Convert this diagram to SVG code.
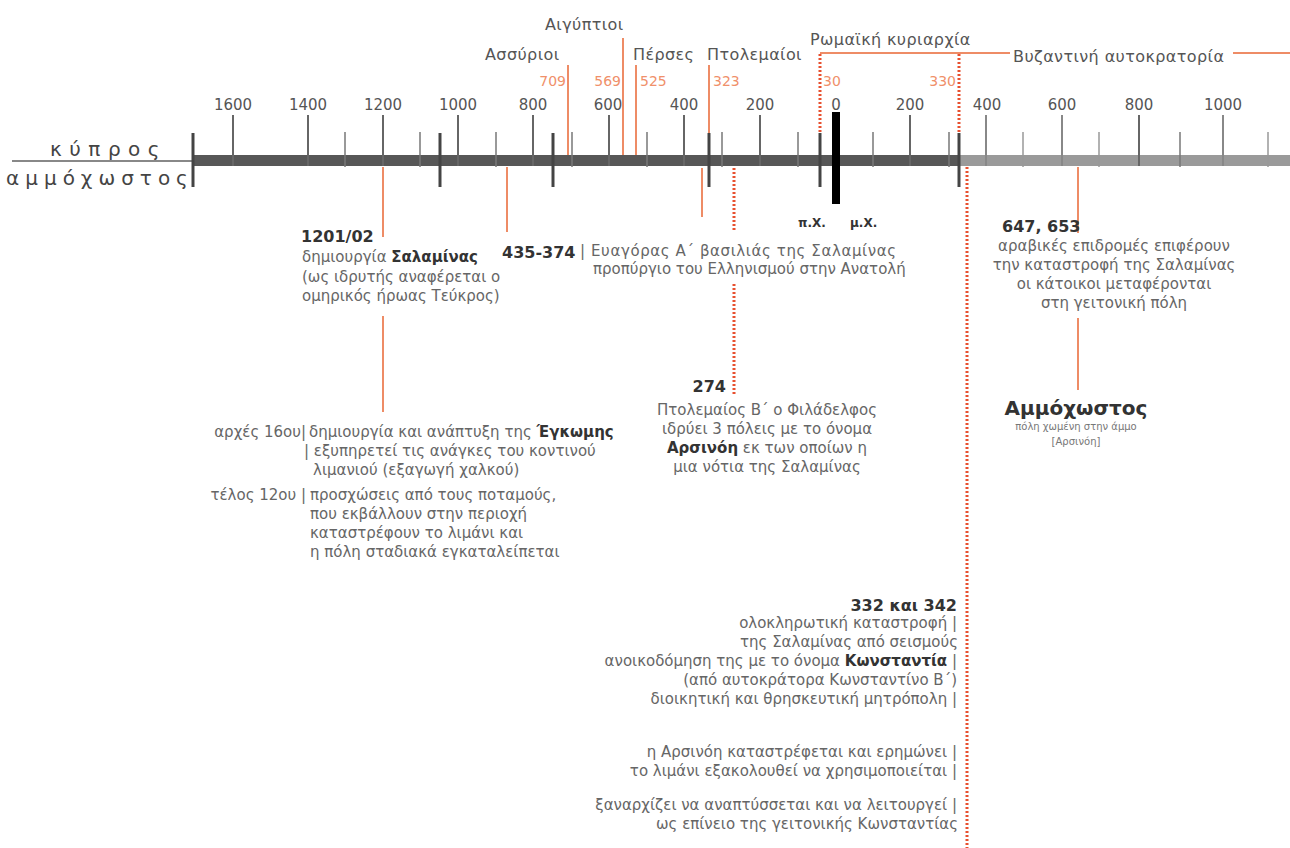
<svg xmlns="http://www.w3.org/2000/svg" width="1290" height="848" viewBox="0 0 1290 848">
<style>
text{font-family:"DejaVu Sans","Noto Sans",sans-serif}
.yr{font-size:15px;fill:#555;text-anchor:middle}
.rn{font-size:14px;fill:#f0906a}
.era{font-size:16px;fill:#555;letter-spacing:0.4px}
.t{font-size:15px;fill:#666}
.b{font-weight:bold;fill:#333}
.h{font-size:16px;font-weight:bold;fill:#333}
.c{text-anchor:middle}
.e{text-anchor:end}
.tall{stroke:#666;stroke-width:2}
.tallr{stroke:#888;stroke-width:2}
.short{stroke:#777;stroke-width:1.5}
.shortr{stroke:#999;stroke-width:1.5}
.dark{stroke:#444;stroke-width:3}
.or{stroke:#ee8c66;stroke-width:2;fill:none}
.dot{stroke:#e8502f;stroke-width:3;stroke-dasharray:2 2;fill:none}
</style>

<g id="axis">
  <line x1="12" y1="161" x2="193" y2="161" stroke="#888" stroke-width="2"/>
  <rect x="193" y="155" width="767" height="11" fill="#575757"/>
  <rect x="960" y="155" width="330" height="11" fill="#9a9a9a"/>
  <text x="50" y="156" font-size="20" letter-spacing="7.5" fill="#444">κύπρος</text>
  <text x="6" y="185" font-size="20" letter-spacing="6" fill="#444">αμμόχωστος</text>
  <g id="tall-ticks">
    <line class="tall" x1="233" y1="115" x2="233" y2="166"/>
    <line class="tall" x1="308" y1="115" x2="308" y2="166"/>
    <line class="tall" x1="383" y1="115" x2="383" y2="166"/>
    <line class="tall" x1="458" y1="115" x2="458" y2="166"/>
    <line class="tall" x1="533" y1="115" x2="533" y2="166"/>
    <line class="tall" x1="609" y1="115" x2="609" y2="166"/>
    <line class="tall" x1="684" y1="115" x2="684" y2="166"/>
    <line class="tall" x1="760" y1="115" x2="760" y2="166"/>
    <line class="tall" x1="910" y1="115" x2="910" y2="166"/>
    <line class="tallr" x1="986" y1="115" x2="986" y2="166"/>
    <line class="tallr" x1="1062" y1="115" x2="1062" y2="166"/>
    <line class="tall" x1="1139" y1="115" x2="1139" y2="166"/>
    <line class="tallr" x1="1223" y1="115" x2="1223" y2="166"/>
  </g>
  <g id="short-ticks">
    <line class="short" x1="345" y1="132" x2="345" y2="167"/>
    <line class="short" x1="420" y1="132" x2="420" y2="167"/>
    <line class="short" x1="496" y1="132" x2="496" y2="167"/>
    <line class="short" x1="572" y1="132" x2="572" y2="167"/>
    <line class="short" x1="647" y1="132" x2="647" y2="167"/>
    <line class="short" x1="722" y1="132" x2="722" y2="167"/>
    <line class="short" x1="798" y1="132" x2="798" y2="167"/>
    <line class="short" x1="873" y1="132" x2="873" y2="167"/>
    <line class="short" x1="949" y1="132" x2="949" y2="167"/>
    <line class="shortr" x1="1023" y1="132" x2="1023" y2="167"/>
    <line class="shortr" x1="1099" y1="132" x2="1099" y2="167"/>
    <line class="short" x1="1180" y1="132" x2="1180" y2="167"/>
    <line class="shortr" x1="1268" y1="132" x2="1268" y2="167"/>
  </g>
  <g id="dark-ticks">
    <line class="dark" x1="193" y1="133" x2="193" y2="187"/>
    <line class="dark" x1="440" y1="133" x2="440" y2="187"/>
    <line class="dark" x1="553" y1="133" x2="553" y2="187"/>
    <line class="dark" x1="709" y1="133" x2="709" y2="187"/>
    <line class="dark" x1="820" y1="133" x2="820" y2="187"/>
    <line class="dark" x1="959" y1="133" x2="959" y2="187"/>
  </g>
  <rect x="832" y="112" width="8" height="92" fill="#000"/>
  <g id="year-labels">
    <text class="yr" x="233" y="110">1600</text>
    <text class="yr" x="308" y="110">1400</text>
    <text class="yr" x="383" y="110">1200</text>
    <text class="yr" x="458" y="110">1000</text>
    <text class="yr" x="533" y="110">800</text>
    <text class="yr" x="608" y="110">600</text>
    <text class="yr" x="684" y="110">400</text>
    <text class="yr" x="760" y="110">200</text>
    <text class="yr" x="836" y="110">0</text>
    <text class="yr" x="910" y="110">200</text>
    <text class="yr" x="987" y="110">400</text>
    <text class="yr" x="1062" y="110">600</text>
    <text class="yr" x="1139" y="110">800</text>
    <text class="yr" x="1223" y="110">1000</text>
  </g>
  <text x="798" y="227" font-size="12" font-weight="bold" fill="#333">π.Χ.</text>
  <text x="850" y="227" font-size="12" font-weight="bold" fill="#333">μ.Χ.</text>
</g>

<g id="eras">
  <line class="or" x1="568" y1="65" x2="568" y2="155"/>
  <line class="or" x1="623" y1="38" x2="623" y2="155"/>
  <line class="or" x1="636" y1="65" x2="636" y2="155"/>
  <line class="or" x1="709" y1="65" x2="709" y2="133"/>
  <line class="dot" x1="820" y1="54" x2="820" y2="133"/>
  <line class="dot" x1="959" y1="54" x2="959" y2="133"/>
  <line class="or" x1="820" y1="53" x2="1010" y2="53"/>
  <line class="or" x1="1233" y1="53" x2="1290" y2="53"/>
  <text class="era" x="545" y="30">Αιγύπτιοι</text>
  <text class="era" x="485" y="60">Ασσύριοι</text>
  <text class="era" x="633" y="60">Πέρσες</text>
  <text class="era" x="707" y="60">Πτολεμαίοι</text>
  <text class="era" x="810" y="45">Ρωμαϊκή κυριαρχία</text>
  <text class="era" x="1013" y="62" letter-spacing="0.8">Βυζαντινή αυτοκρατορία</text>
  <text class="rn e" x="566" y="86">709</text>
  <text class="rn e" x="621" y="86">569</text>
  <text class="rn" x="640" y="86">525</text>
  <text class="rn" x="713" y="86">323</text>
  <text class="rn" x="823" y="86">30</text>
  <text class="rn e" x="956" y="86">330</text>
</g>

<g id="connectors">
  <line class="or" x1="383" y1="167" x2="383" y2="237"/>
  <line class="or" x1="383" y1="316" x2="383" y2="412"/>
  <line class="or" x1="507" y1="167" x2="507" y2="232"/>
  <line class="or" x1="702" y1="168" x2="702" y2="217"/>
  <line class="dot" x1="734" y1="168" x2="734" y2="232"/>
  <line class="dot" x1="734" y1="284" x2="734" y2="395"/>
  <line class="dot" x1="967" y1="167" x2="967" y2="848"/>
  <line class="or" x1="1078" y1="167" x2="1078" y2="233"/>
  <line class="or" x1="1078" y1="318" x2="1078" y2="390"/>
</g>

<g id="node-1201">
  <text class="h" x="301" y="242">1201/02</text>
  <text class="t" x="302" y="262">δημιουργία <tspan class="b">Σαλαμίνας</tspan></text>
  <text class="t" x="302" y="282">(ως ιδρυτής αναφέρεται ο</text>
  <text class="t" x="302" y="301">ομηρικός ήρωας Τεύκρος)</text>
</g>

<g id="node-435">
  <text class="h" x="502" y="258">435-374</text>
  <text class="t" x="580" y="256" textLength="316">| Ευαγόρας Α΄ βασιλιάς της Σαλαμίνας</text>
  <text class="t" x="593" y="274">προπύργιο του Ελληνισμού στην Ανατολή</text>
</g>

<g id="node-647">
  <text class="h" x="1002" y="232">647, 653</text>
  <text class="t c" x="1114" y="251">αραβικές επιδρομές επιφέρουν</text>
  <text class="t c" x="1114" y="270">την καταστροφή της Σαλαμίνας</text>
  <text class="t c" x="1114" y="289">οι κάτοικοι μεταφέρονται</text>
  <text class="t c" x="1114" y="308">στη γειτονική πόλη</text>
</g>

<g id="node-ammochostos">
  <text class="c" x="1076" y="415" font-size="20" font-weight="bold" fill="#333">Αμμόχωστος</text>
  <text class="c" x="1076" y="430" font-size="10" fill="#777">πόλη χωμένη στην άμμο</text>
  <text class="c" x="1076" y="445" font-size="10" fill="#777">[Αρσινόη]</text>
</g>

<g id="node-enkomi">
  <text class="t e" x="306" y="437">αρχές 16ου|</text>
  <text class="t" x="309" y="437">δημιουργία και ανάπτυξη της <tspan class="b">Έγκωμης</tspan></text>
  <text class="t" x="304" y="456">| εξυπηρετεί τις ανάγκες του κοντινού</text>
  <text class="t" x="313" y="475">λιμανιού (εξαγωγή χαλκού)</text>
  <text class="t e" x="306" y="500">τέλος 12ου |</text>
  <text class="t" x="310" y="500">προσχώσεις από τους ποταμούς,</text>
  <text class="t" x="310" y="519">που εκβάλλουν στην περιοχή</text>
  <text class="t" x="310" y="538">καταστρέφουν το λιμάνι και</text>
  <text class="t" x="310" y="557">η πόλη σταδιακά εγκαταλείπεται</text>
</g>

<g id="node-274">
  <text class="h e" x="726" y="392">274</text>
  <text class="t c" x="767" y="415">Πτολεμαίος Β΄ ο Φιλάδελφος</text>
  <text class="t c" x="767" y="434">ιδρύει 3 πόλεις με το όνομα</text>
  <text class="t c" x="767" y="453"><tspan class="b">Αρσινόη</tspan> εκ των οποίων η</text>
  <text class="t c" x="767" y="472">μια νότια της Σαλαμίνας</text>
</g>

<g id="node-332">
  <text class="h e" x="957" y="611">332 και 342</text>
  <text class="t e" x="957" y="628">ολοκληρωτική καταστροφή |</text>
  <text class="t e" x="958" y="647">της Σαλαμίνας από σεισμούς</text>
  <text class="t e" x="957" y="666">ανοικοδόμηση της με το όνομα <tspan class="b">Κωνσταντία</tspan>  |</text>
  <text class="t e" x="957" y="685">(από αυτοκράτορα  Κωνσταντίνο Β΄)</text>
  <text class="t e" x="957" y="704">διοικητική και θρησκευτική μητρόπολη |</text>
  <text class="t e" x="957" y="757">η Αρσινόη καταστρέφεται και ερημώνει |</text>
  <text class="t e" x="957" y="776">το λιμάνι εξακολουθεί να χρησιμοποιείται |</text>
  <text class="t e" x="957" y="810">ξαναρχίζει να αναπτύσσεται και να λειτουργεί |</text>
  <text class="t e" x="958" y="829">ως επίνειο της γειτονικής Κωνσταντίας</text>
</g>
</svg>
